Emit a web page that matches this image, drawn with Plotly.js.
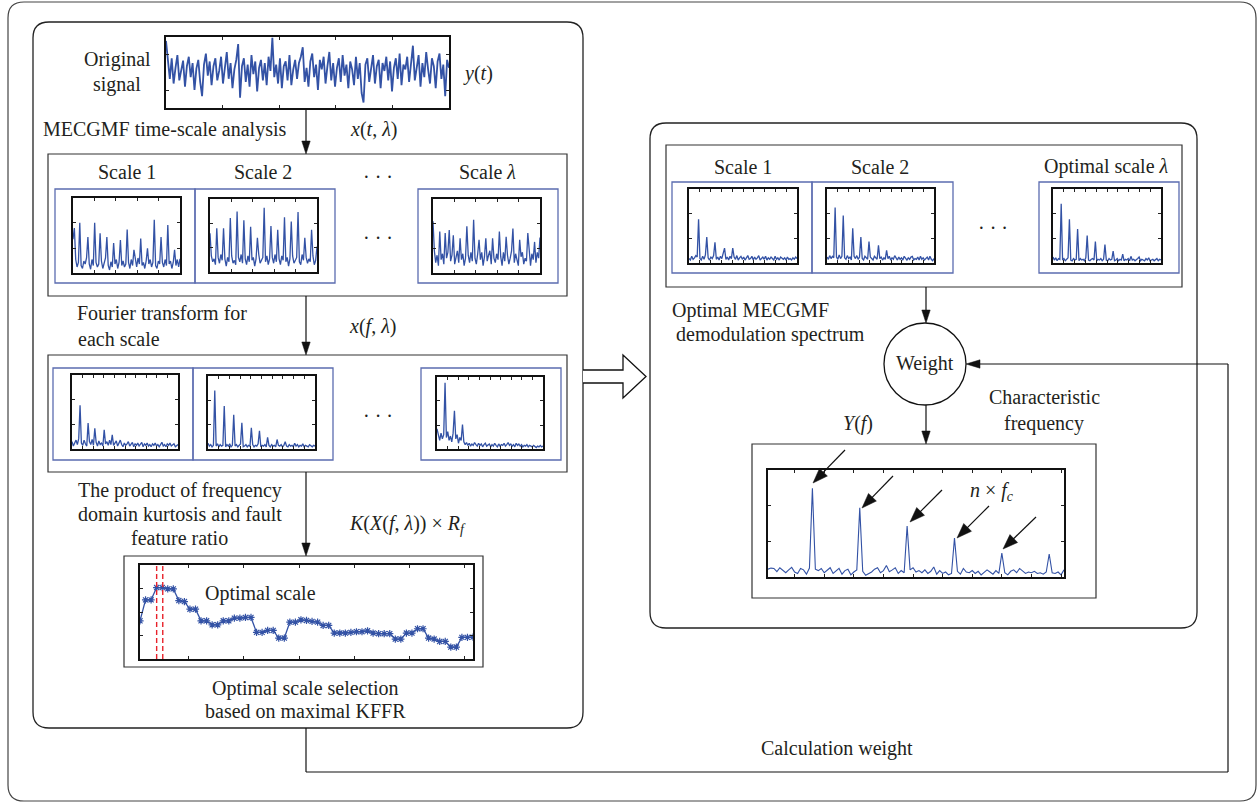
<!DOCTYPE html>
<html><head><meta charset="utf-8">
<script src="https://cdn.plot.ly/plotly-3.0.1.min.js"></script>
<style>html,body{margin:0;padding:0;background:#fff}#chart{width:1258px;height:803px}</style>
</head><body><div id="chart"></div>
<script>
// ---------------- data ----------------
const originalSignal = [40,12,-8,18,-14,6,22,-10,4,15,
 -18,8,20,-6,12,-22,5,16,-12,-30, 10,24,-4,14,-16,8,18,-10,2,20,
 -14,6,26,-8,12,-20,4,16,36,-32, 8,18,-12,10,-18,22,-2,14,-24,6,
 16,-10,12,-16,20,2,44,-6,10,-14, 18,-20,8,14,-10,22,-16,4,16,-8,
 12,20,32,-12,6,-18,14,24,-6,10, -22,16,4,20,-14,8,26,-10,12,-18,
 6,18,-12,22,-4,10,-20,14,4,-16, 20,-8,12,-26,-38,10,18,-12,6,22,
 -14,8,16,-20,12,2,20,-10,14,-24, 6,18,-8,24,-16,10,4,20,-12,14,
 34,-10,8,22,-18,12,-6,26,4,-14, 18,8,-20,14,24,-8,10,-30,16,6];

const scale1Time = [45,60,18,8,14,67,10,6,16,12, 20,48,12,5,18,10,67,14,8,12,
 53,16,6,12,20,48,10,4,15,8, 40,12,18,6,14,44,10,16,8,12,
 58,14,6,18,10,31,16,8,20,12, 46,10,14,6,16,33,12,18,8,14,
 71,10,6,16,12,48,14,8,18,10, 64,12,16,6,14,31,10,18,8,19];
const scale2Time = [53,22,14,18,10,60,20,12,24,16, 60,18,8,20,14,74,22,12,16,10,
 83,20,14,24,12,71,18,10,22,14, 62,16,20,8,18,47,24,12,16,20,
 88,14,22,10,18,63,20,12,24,14, 58,18,10,22,16,75,14,20,8,18,
 69,22,12,16,20,82,14,10,24,16, 47,20,12,18,14,58,22,10,16,35];
const scaleLambdaTime = [70,30,14,24,10,56,18,26,12,54, 20,28,58,16,24,51,12,22,30,14,
 47,18,26,10,20,63,24,14,28,16, 72,20,12,26,45,18,28,10,22,47,
 16,24,30,12,47,20,14,26,18,56, 22,10,28,16,49,24,12,20,30,60,
 14,26,18,10,45,22,28,12,20,16, 54,24,10,26,18,42,14,28,20,48];

const scale1Freq = [10,4,8,12,6,14,59,8,5,12, 7,4,35,10,6,13,5,28,9,4,
 11,6,8,4,26,7,10,5,12,6, 19,5,8,11,4,9,12,6,3,8,
 5,7,10,4,6,9,3,7,5,8, 4,6,9,3,7,5,8,4,6,3,
 7,5,8,4,6,3,7,9,4,6, 3,7,5,8,4,6,7,3,5,6];
const scale2Freq = [8,4,6,3,5,80,4,7,3,6, 4,5,59,3,6,4,7,3,5,47,
 4,6,3,5,7,36,3,4,6,3, 5,4,29,6,3,5,4,7,25,3,
 5,4,6,3,16,5,3,6,4,5, 3,13,5,4,6,3,5,10,4,3,
 6,4,5,3,8,4,6,3,5,4, 7,3,5,4,3,6,4,3,5,4];
const scaleLambdaFreq = [28,18,12,22,14,20,92,16,24,12, 18,10,22,53,14,20,8,16,12,34,
 10,6,9,5,8,4,7,5,9,6, 4,8,5,7,3,6,8,4,5,7,
 3,6,4,8,5,3,7,4,6,5, 8,4,6,9,5,7,4,6,3,8,
 5,7,4,6,3,5,4,6,3,5, 4,3,5,4,2,4,3,5,3,4];

const demodScale1 = [6,4,9,5,7,10,8,59,6,4, 9,5,11,35,7,4,8,6,10,28,
 5,8,4,9,6,12,20,5,8,4, 9,6,20,8,5,10,4,7,9,5,
 8,4,7,10,5,6,9,4,8,5, 7,10,4,6,8,5,9,4,7,5,
 8,6,4,9,5,7,4,8,6,5, 7,4,8,5,6,4,7,5,8,6];
const demodScale2 = [8,5,10,6,9,7,75,8,5,11, 6,9,64,7,5,10,6,8,4,47,
 9,6,10,5,8,35,6,4,9,7, 5,29,8,6,4,9,7,5,24,6,
 8,4,7,5,17,6,9,4,7,5, 10,6,4,8,5,7,4,9,6,4,
 7,5,8,9,4,6,5,8,4,9, 5,7,4,6,8,4,9,5,3,6];
const demodOptimal = [8,4,7,3,6,5,80,4,6,3, 5,7,59,4,3,6,4,5,46,3,
 6,4,5,3,7,37,4,3,5,6, 4,29,3,5,4,6,3,5,25,4,
 3,6,4,5,16,3,4,6,3,5, 4,12,3,5,4,6,3,9,4,5,
 3,4,6,8,3,5,4,3,6,4, 7,3,4,5,3,4,6,3,5,4];

const kffr = [40.6,62.9,62.9,76,76,74.6,74.6,62.2,61.1,53,53,40.6,40.6,36.4,36.4,40.6,40.6,
 43.5,43.5,44.2,44.2,28.3,28.3,30.4,30.4,22.3,22.3,39.2,39.2,41.7,41,40,39.2,35.7,35.7,
 27.6,27.6,27.6,28.3,29,29,30,27.6,26.9,26.9,26.9,21.2,21.2,27.6,27.6,32.2,32.2,22.3,
 21.2,18.7,18.7,12.7,12.7,23,23,23.3];
const optimalScaleMarks = [3.0, 4.1];

const weightedSpectrum = [0.22,0.25,0.24,0.15,0.26,0.18,0.12,0.2,0.27,0.14,
 0.1,0.24,0.2,0.08,0.25,2.49,0.22,0.18,0.24,0.12,
 0.2,0.26,0.1,0.17,0.24,0.08,0.18,0.22,0.06,0.14,
 0.2,1.94,0.16,0.05,0.1,0.14,0.22,0.26,0.12,0.18,
 0.32,0.15,0.2,0.26,0.1,0.18,0.12,1.43,0.2,0.26,
 0.14,0.18,0.12,0.2,0.1,0.16,0.28,0.08,0.18,0.1,
 0.14,0.06,0.1,1.09,0.16,0.08,0.24,0.14,0.12,0.18,
 0.1,0.16,0.06,0.12,0.2,0.14,0.08,0.18,0.1,0.67,
 0.12,0.06,0.16,0.2,0.12,0.24,0.16,0.1,0.14,0.12,
 0.16,0.1,0.12,0.08,0.14,0.645,0.12,0.1,0.14,0.06,0.2];

// ---------------- layout helpers ----------------
const W = 1258, H = 803;
const X = p => p / W;
const Y = p => 1 - p / H;
const P = (x, y) => X(x) + ',' + Y(y);
const FONT = 'Liberation Serif, Times New Roman, serif';
const BLUE = '#3352a5';
const idx = a => a.map((_, i) => i);
const fr = (r, f) => f.map(v => r[0] + v * (r[1] - r[0]));

// plot rectangles in page pixels [x0,y0,x1,y1]
const plots = [
  {d: originalSignal, r: [166,37,449,108], xr: [0,149], yr: [-45,45], xf: [0.2,0.4,0.6,0.8], yt: [-22.5,22.5], w: 1.8},
  {d: scale1Time, r: [73,198,180,273], xr: [0,79], yr: [0,100], xf: [0.2,0.4,0.6,0.8], yt: [33.3,66.7]},
  {d: scale2Time, r: [210,199,317,272], xr: [0,79], yr: [0,100], xf: [0.2,0.4,0.6,0.8], yt: [33.3,66.7]},
  {d: scaleLambdaTime, r: [433,199,540,273], xr: [0,79], yr: [0,100], xf: [0.2,0.4,0.6,0.8], yt: [33.3,66.7]},
  {d: scale1Freq, r: [72,375,178,449], xr: [0,79], yr: [0,100], xf: [0.1,0.2,0.3,0.4,0.5,0.6,0.7,0.8,0.9], yt: [33.3,66.7]},
  {d: scale2Freq, r: [208,376,315,449], xr: [0,79], yr: [0,100], xf: [0.1,0.2,0.3,0.4,0.5,0.6,0.7,0.8,0.9], yt: [33.3,66.7]},
  {d: scaleLambdaFreq, r: [437,377,543,449], xr: [0,79], yr: [0,100], xf: [0.1,0.2,0.3,0.4,0.5,0.6,0.7,0.8,0.9], yt: [33.3,66.7]},
  {d: kffr, r: [140,565,473,659], xr: [0,60], yr: [0,100], xt: [8.7,18.7,28.7,38.7,48.6,58.4], yt: [25,50,75], markers: true},
  {d: demodScale1, r: [689,189,797,263], xr: [0,79], yr: [0,100], xf: [0.1,0.2,0.3,0.4,0.5,0.6,0.7,0.8,0.9], yt: [33.3,66.7]},
  {d: demodScale2, r: [827,189,934,263], xr: [0,79], yr: [0,100], xf: [0.1,0.2,0.3,0.4,0.5,0.6,0.7,0.8,0.9], yt: [33.3,66.7]},
  {d: demodOptimal, r: [1053,189,1161,263], xr: [0,79], yr: [0,100], xf: [0.1,0.2,0.3,0.4,0.5,0.6,0.7,0.8,0.9], yt: [33.3,66.7]},
  {d: weightedSpectrum, r: [768,470,1064,577], xr: [0,100], yr: [0,3], xt: [9,19,29,39,49,59,69,79,89,99], yt: [1,2], w: 1.1}
];

const data = [];
const layout = {
  width: W, height: H, margin: {l:0, r:0, t:0, b:0},
  paper_bgcolor: '#fff', plot_bgcolor: '#fff', showlegend: false,
  font: {family: FONT, size: 20, color: '#231f20'},
  shapes: [], annotations: []
};

plots.forEach((p, i) => {
  const n = i === 0 ? '' : String(i + 1);
  const axBase = {
    ticks: 'inside', ticklen: 3, tickwidth: 1, tickcolor: '#222',
    showticklabels: false, showline: true, mirror: 'ticks', linecolor: '#111', linewidth: 1.6,
    showgrid: false, zeroline: false, fixedrange: true
  };
  layout['xaxis' + n] = Object.assign({}, axBase, {
    domain: [X(p.r[0]), X(p.r[2])], range: p.xr, anchor: 'y' + n,
    tickmode: 'array', tickvals: p.xt || fr(p.xr, p.xf)
  });
  layout['yaxis' + n] = Object.assign({}, axBase, {
    domain: [Y(p.r[3]), Y(p.r[1])], range: p.yr, anchor: 'x' + n,
    tickmode: 'array', tickvals: p.yt
  });
  const tr = {
    x: idx(p.d), y: p.d, xaxis: 'x' + n, yaxis: 'y' + n, type: 'scatter',
    mode: p.markers ? 'lines+markers' : 'lines', hoverinfo: 'skip',
    line: {color: BLUE, width: p.w || 1.3}
  };
  if (p.markers) tr.marker = {symbol: 'asterisk-open', size: 6, color: BLUE, line: {color: BLUE, width: 1.2}};
  data.push(tr);
});

// optimal scale dashed marks (on the KFFR axes: index 8)
optimalScaleMarks.forEach(v => layout.shapes.push({
  type: 'line', xref: 'x8', yref: 'y8 domain', x0: v, x1: v, y0: 0, y1: 1,
  line: {color: '#e8212a', width: 1.4, dash: '5px,3px'}, layer: 'above'
}));

// ---------------- diagram shapes ----------------
const S = layout.shapes;
function rrect(x0, y0, x1, y1, r, color, w) {
  const path = `M${P(x0+r,y0)} L${P(x1-r,y0)} Q${P(x1,y0)} ${P(x1,y0+r)} L${P(x1,y1-r)} Q${P(x1,y1)} ${P(x1-r,y1)} L${P(x0+r,y1)} Q${P(x0,y1)} ${P(x0,y1-r)} L${P(x0,y0+r)} Q${P(x0,y0)} ${P(x0+r,y0)} Z`;
  S.push({type: 'path', xref: 'paper', yref: 'paper', path, line: {color, width: w}, layer: 'below'});
}
function rect(x0, y0, x1, y1, color, w) {
  S.push({type: 'rect', xref: 'paper', yref: 'paper', x0: X(x0), x1: X(x1), y0: Y(y1), y1: Y(y0), line: {color, width: w}, layer: 'below'});
}
function line(x0, y0, x1, y1, w) {
  S.push({type: 'line', xref: 'paper', yref: 'paper', x0: X(x0), y0: Y(y0), x1: X(x1), y1: Y(y1), line: {color: '#111', width: w || 1.2}});
}
function arrow(tx, ty, hx, hy, len, hw, w) {
  const dx = hx - tx, dy = hy - ty, L = Math.hypot(dx, dy);
  const ux = dx / L, uy = dy / L;
  const bx = hx - ux * len, by = hy - uy * len;
  line(tx, ty, bx + ux * 1, by + uy * 1, w);
  const nx = -uy, ny = ux;
  S.push({type: 'path', xref: 'paper', yref: 'paper',
    path: `M${P(hx,hy)} L${P(bx+nx*hw,by+ny*hw)} L${P(bx-nx*hw,by-ny*hw)} Z`,
    fillcolor: '#111', line: {color: '#111', width: 0.5}});
}

rrect(8, 2, 1256, 801, 16, '#444', 1.2);
rrect(33, 22, 583, 728, 16, '#222', 1.3);
rrect(650, 123, 1197, 628, 16, '#222', 1.3);

const BLK = '#333', BLU = '#5b6cb0';
rect(48, 154, 567, 296, BLK, 1.2);
rect(48, 355, 567, 472, BLK, 1.2);
rect(124, 556, 483, 667, BLK, 1.2);
rect(666, 145, 1182, 287, BLK, 1.2);
rect(752, 444, 1096, 598, BLK, 1.2);

rect(55, 189, 195, 283, BLU, 1.3); rect(195, 189, 335, 283, BLU, 1.3); rect(418, 189, 558, 283, BLU, 1.3);
rect(53, 368, 193, 460, BLU, 1.3); rect(193, 368, 333, 460, BLU, 1.3); rect(421, 368, 561, 460, BLU, 1.3);
rect(672, 182, 812, 273, BLU, 1.3); rect(812, 182, 953, 273, BLU, 1.3); rect(1039, 182, 1179, 273, BLU, 1.3);

// weight circle
S.push({type: 'circle', xref: 'paper', yref: 'paper', x0: X(884), x1: X(966), y0: Y(405), y1: Y(323), line: {color: '#111', width: 1.3}});

// hollow block arrow
S.push({type: 'path', xref: 'paper', yref: 'paper',
  path: `M${P(583,370)} L${P(623,370)} L${P(623,355)} L${P(646,376.5)} L${P(623,398)} L${P(623,383)} L${P(583,383)}`,
  fillcolor: '#fff', line: {color: '#111', width: 1.3}});

// flow arrows
arrow(306, 108, 306, 154, 13, 4.2);
arrow(306, 296, 306, 355, 13, 4.2);
arrow(306, 472, 306, 556, 13, 4.2);
arrow(926, 287, 926, 323, 13, 4.2);
arrow(926, 405, 926, 444, 13, 4.2);
// feedback loop
line(306, 728, 306, 772); line(306, 772, 1228, 772); line(1228, 772, 1228, 364);
arrow(1228, 364, 966, 364, 14, 4.2);
// arrows pointing at characteristic-frequency peaks
arrow(845, 450, 813, 483, 15, 5.5);
arrow(893, 476, 862, 508, 15, 5.5);
arrow(942, 490, 910, 522, 15, 5.5);
arrow(989, 506, 957, 538, 15, 5.5);
arrow(1036, 517, 1003, 549, 15, 5.5);

// ---------------- texts ----------------
function txt(t, x, y, opt) {
  layout.annotations.push(Object.assign({
    text: t, x: X(x), y: Y(y), xref: 'paper', yref: 'paper', showarrow: false,
    xanchor: 'center', yanchor: 'middle', font: {family: FONT, size: 20, color: '#231f20'}
  }, opt || {}));
}
txt('Original', 117, 60); txt('signal', 117, 85);
txt('<i>y</i>(<i>t</i>)', 478, 73);
txt('MECGMF time-scale analysis', 165, 130);
txt('<i>x</i>(<i>t</i>, <i>λ</i>)', 373, 130);
txt('Scale 1', 127, 172); txt('Scale 2', 263, 172); txt('· · ·', 378, 177); txt('Scale <i>λ</i>', 487, 172);
txt('· · ·', 378, 238);
txt('Fourier transform for', 75, 313, {xanchor: 'left'});
txt('each scale', 76, 339, {xanchor: 'left'});
txt('<i>x</i>(<i>f</i>, <i>λ</i>)', 372, 326);
txt('· · ·', 378, 416);
txt('The product of frequency', 180, 490);
txt('domain kurtosis and fault', 180, 514);
txt('feature ratio', 179, 538);
txt('<i>K</i>(<i>X</i>(<i>f</i>, <i>λ</i>)) × <i>R</i><sub><i>f</i></sub>', 407, 524);
txt('Optimal scale', 260, 593);
txt('Optimal scale selection', 305, 688);
txt('based on maximal KFFR', 305, 711);
txt('Scale 1', 743, 167); txt('Scale 2', 880, 167); txt('Optimal scale <i>λ</i>', 1106, 167);
txt('· · ·', 993, 228);
txt('Optimal MECGMF', 750, 310);
txt('demodulation spectrum', 770, 334);
txt('Weight', 925, 363);
txt('<i>Y</i>(<i>f</i>)', 858, 423);
txt('Characteristic', 1044, 397);
txt('frequency', 1044, 423);
txt('<i>n</i> × <i>f</i><sub><i>c</i></sub>', 992, 491);
txt('Calculation weight', 837, 748);

Plotly.newPlot('chart', data, layout, {displayModeBar: false, staticPlot: true});
</script></body></html>
